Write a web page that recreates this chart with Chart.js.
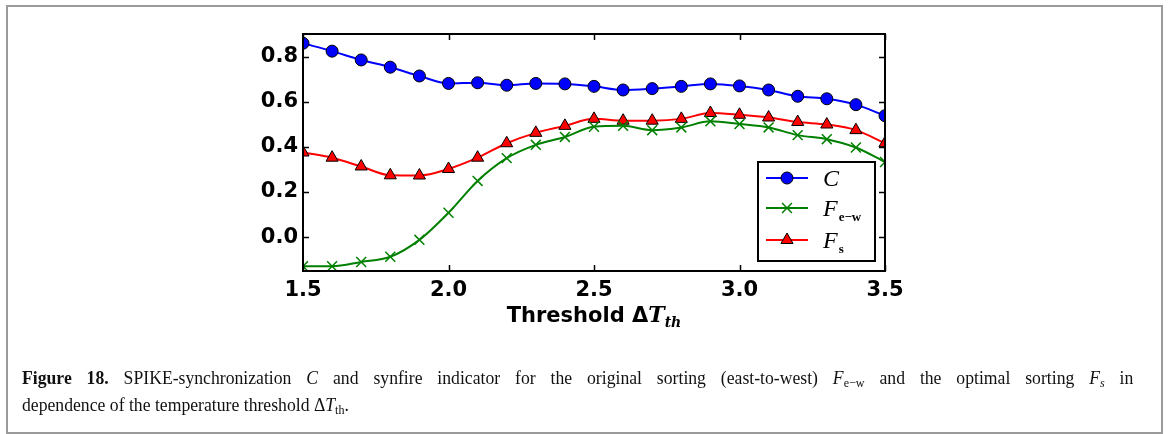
<!DOCTYPE html>
<html>
<head>
<meta charset="utf-8">
<script src="https://cdn.jsdelivr.net/npm/chart.js@4.4.0/dist/chart.umd.min.js"></script>
<style>
  html, body { margin: 0; padding: 0; background: #fff; }
  #wrap { position: relative; width: 1168px; height: 434px; overflow: hidden; }
  #frame { position: absolute; left: 6px; top: 5px; width: 1153px; height: 425px; border: 2px solid #9a9a9a; }
  #cv { position: absolute; left: 0; top: 0; }
  #cap {
    position: absolute; left: 22px; top: 364px; width: 1195px;
    transform: scaleX(0.93); transform-origin: 0 0;
    font-family: "Liberation Serif", "DejaVu Serif", serif; font-size: 19px; line-height: 27px; color: #111;
  }
  #cap .l1 { text-align: justify; text-align-last: justify; white-space: nowrap; }
  #cap sub { font-size: 13px; vertical-align: -3px; line-height: 0; }
</style>
</head>
<body>
<div id="wrap">
  <div id="frame"></div>
  <canvas id="cv" width="1168" height="434"></canvas>
  <div id="cap">
    <div class="l1"><b>Figure 18.</b> SPIKE-synchronization <i>C</i> and synfire indicator for the original sorting (east-to-west) <i>F</i><sub>e&minus;w</sub> and the optimal sorting <i>F<sub>s</sub></i> in</div>
    <div>dependence of the temperature threshold &Delta;<i>T</i><sub>th</sub>.</div>
  </div>
</div>
<script>
// thresholds (x) and the three curves
const thresholds = [1.5, 1.6, 1.7, 1.8, 1.9, 2.0, 2.1, 2.2, 2.3, 2.4, 2.5,
                    2.6, 2.7, 2.8, 2.9, 3.0, 3.1, 3.2, 3.3, 3.4, 3.5];
const spikeSyncC = [0.859, 0.824, 0.785, 0.753, 0.714, 0.681, 0.684, 0.673, 0.681, 0.679, 0.668,
                    0.652, 0.658, 0.668, 0.679, 0.670, 0.652, 0.624, 0.613, 0.587, 0.538];
const synfireEW  = [-0.129, -0.129, -0.110, -0.087, -0.012, 0.108, 0.249, 0.350, 0.409, 0.444, 0.489,
                    0.493, 0.474, 0.486, 0.513, 0.501, 0.486, 0.452, 0.434, 0.397, 0.333];
const synfireS   = [0.375, 0.352, 0.313, 0.274, 0.273, 0.302, 0.352, 0.416, 0.462, 0.493, 0.524,
                    0.516, 0.516, 0.524, 0.550, 0.542, 0.530, 0.510, 0.499, 0.474, 0.416];
const xTicks = [1.5, 2.0, 2.5, 3.0, 3.5];
const yTicks = [0.0, 0.2, 0.4, 0.6, 0.8];

const TICK_FONT = { family: 'DejaVu Sans', size: 21, weight: 'bold' };
const pts = ys => thresholds.map((x, i) => ({ x, y: ys[i] }));

// inside ticks on all four sides + black frame, legend and axis title
const decor = {
  id: 'decor',
  afterDraw(chart) {
    const { ctx, chartArea: a, scales } = chart;
    const xs = scales.x, ys = scales.y;
    ctx.save();
    ctx.strokeStyle = '#000';
    ctx.lineWidth = 1.5;
    ctx.beginPath();
    xTicks.forEach(v => {
      const px = Math.round(xs.getPixelForValue(v)) + 0.5;
      ctx.moveTo(px, a.bottom); ctx.lineTo(px, a.bottom - 6);
      ctx.moveTo(px, a.top); ctx.lineTo(px, a.top + 6);
    });
    yTicks.forEach(v => {
      const py = Math.round(ys.getPixelForValue(v)) + 0.5;
      ctx.moveTo(a.left, py); ctx.lineTo(a.left + 6, py);
      ctx.moveTo(a.right, py); ctx.lineTo(a.right - 6, py);
    });
    ctx.stroke();
    ctx.lineWidth = 2;
    ctx.strokeRect(a.left, a.top, a.right - a.left, a.bottom - a.top);

    // legend box
    const lx = 758, ly = 162, lw = 117, lh = 99;
    ctx.fillStyle = '#fff';
    ctx.fillRect(lx, ly, lw, lh);
    ctx.strokeRect(lx, ly, lw, lh);
    const rows = [
      { ds: 0, y: 178, name: 'C', sub: '' },
      { ds: 1, y: 208, name: 'F', sub: 'e\u2212w' },
      { ds: 2, y: 240, name: 'F', sub: 's' },
    ];
    rows.forEach(r => {
      const d = chart.data.datasets[r.ds];
      ctx.strokeStyle = d.borderColor;
      ctx.lineWidth = 2;
      ctx.beginPath(); ctx.moveTo(766, r.y); ctx.lineTo(808, r.y); ctx.stroke();
      ctx.fillStyle = d.pointBackgroundColor;
      ctx.strokeStyle = d.pointBorderColor;
      ctx.lineWidth = d.pointBorderWidth;
      Chart.helpers.drawPoint(ctx, { pointStyle: d.pointStyle, radius: d.pointRadius, rotation: 0, borderWidth: d.pointBorderWidth }, 787, r.y);
      ctx.fillStyle = '#000';
      ctx.textBaseline = 'alphabetic';
      ctx.textAlign = 'left';
      ctx.font = 'italic 24px "Liberation Serif"';
      ctx.fillText(r.name, 823, r.y + 8);
      if (r.sub) {
        const w = ctx.measureText(r.name).width;
        ctx.font = 'bold 13px "Liberation Serif"';
        ctx.fillText(r.sub, 823 + w + 1, r.y + 13);
      }
    });

    // x axis title: Threshold ΔT_th
    const base = 322;
    ctx.fillStyle = '#000';
    ctx.font = 'bold 21px "DejaVu Sans"';
    const t1 = 'Threshold ';
    const w1 = ctx.measureText(t1).width;
    const wD = ctx.measureText('\u0394').width;
    ctx.font = 'bold italic 22px "DejaVu Serif"';
    const wT = ctx.measureText('T').width;
    ctx.font = 'bold italic 14px "DejaVu Serif"';
    const wS = ctx.measureText('th').width;
    let x = (a.left + a.right) / 2 - (w1 + wD + wT + wS) / 2;
    ctx.font = 'bold 21px "DejaVu Sans"';
    ctx.fillText(t1, x, base); x += w1;
    ctx.fillText('\u0394', x, base); x += wD;
    ctx.font = 'bold italic 22px "DejaVu Serif"';
    ctx.fillText('T', x, base); x += wT;
    ctx.font = 'bold italic 14px "DejaVu Serif"';
    ctx.fillText('th', x, base + 5);
    ctx.restore();
  }
};

new Chart(document.getElementById('cv'), {
  type: 'line',
  data: {
    datasets: [
      {
        label: 'C', data: pts(spikeSyncC),
        borderColor: '#0000ff', borderWidth: 2,
        pointStyle: 'circle', pointRadius: 6, pointBackgroundColor: '#0000ff',
        pointBorderColor: '#000', pointBorderWidth: 1,
      },
      {
        label: 'F e-w', data: pts(synfireEW),
        borderColor: '#008000', borderWidth: 2,
        pointStyle: 'crossRot', pointRadius: 7, pointBackgroundColor: '#008000',
        pointBorderColor: '#008000', pointBorderWidth: 1.5,
      },
      {
        label: 'F s', data: pts(synfireS),
        borderColor: '#ff0000', borderWidth: 2,
        pointStyle: 'triangle', pointRadius: 7, pointBackgroundColor: '#ff0000',
        pointBorderColor: '#000', pointBorderWidth: 1,
      },
    ]
  },
  options: {
    responsive: false,
    animation: false,
    layout: { padding: { left: 0, top: 34, right: 283, bottom: 0 } },
    elements: { line: { cubicInterpolationMode: 'monotone' }, point: { hoverRadius: 6 } },
    datasets: { line: { clip: 0 } },
    plugins: { legend: { display: false }, tooltip: { enabled: false } },
    scales: {
      x: {
        type: 'linear', min: 1.5, max: 3.5,
        afterBuildTicks: s => { s.ticks = xTicks.map(v => ({ value: v })); },
        afterFit: s => { s.height = 434 - 271; },
        grid: { display: false, drawTicks: false },
        border: { display: false },
        ticks: { color: '#000', font: TICK_FONT, padding: 7, maxRotation: 0, callback: v => v.toFixed(1) },
      },
      y: {
        min: -0.15, max: 0.9,
        afterBuildTicks: s => { s.ticks = yTicks.map(v => ({ value: v })); },
        afterFit: s => { s.width = 303; },
        grid: { display: false, drawTicks: false },
        border: { display: false },
        ticks: { color: '#000', font: TICK_FONT, padding: 5, callback: v => v.toFixed(1) },
      }
    }
  },
  plugins: [decor]
});
</script>
</body>
</html>
